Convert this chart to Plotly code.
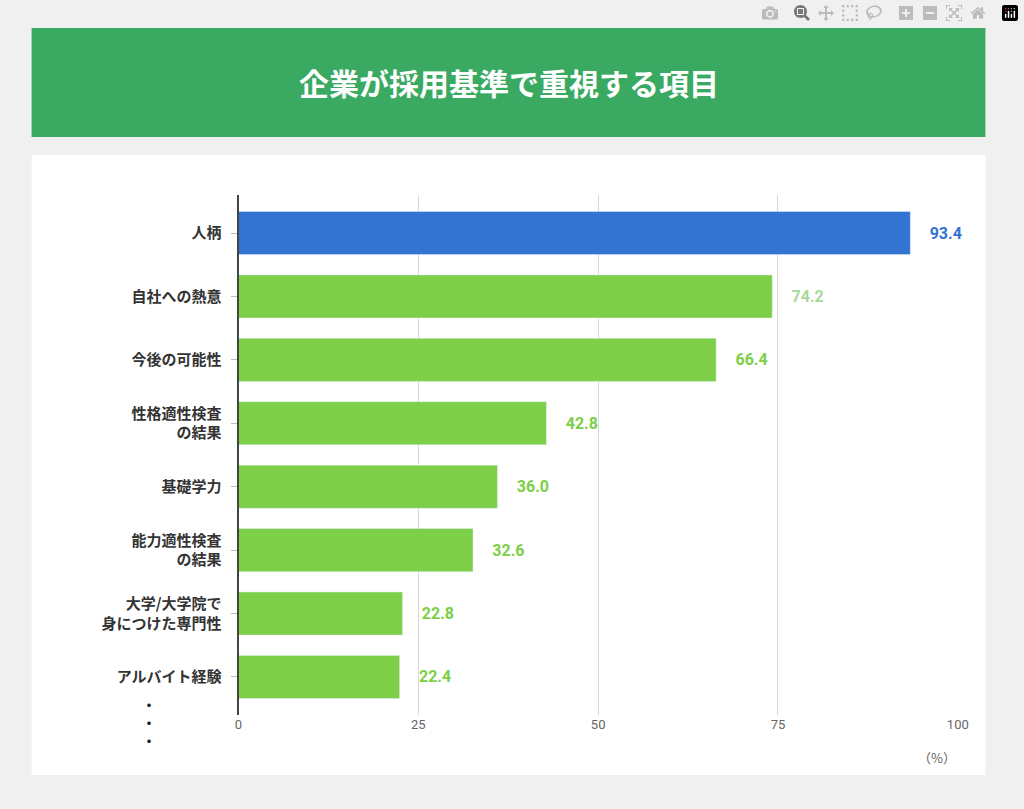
import plotly.graph_objects as go

categories = ["人柄", "自社への熱意", "今後の可能性", "性格適性検査<br>の結果", "基礎学力",
              "能力適性検査<br>の結果", "大学/大学院で<br>身につけた専門性", "アルバイト経験"]
values = [93.4, 74.2, 66.4, 42.8, 36.0, 32.6, 22.8, 22.4]
bar_colors = ["#3373d1"] + ["#7ccf46"] * 7
label_colors = ["#3373d1", "#a9d99a"] + ["#7ccf46"] * 6

W, H = 1024, 809
fig = go.Figure()
fig.add_trace(go.Bar(
    y=categories, x=values, orientation="h", marker_color=bar_colors, width=0.68,
    text=[f"\u2003<b>{v:.1f}</b>" for v in values], textposition="outside",
    textfont=dict(color=label_colors, size=16, family="Roboto"),
    cliponaxis=False, hoverinfo="skip"))

fig.update_layout(
    width=W, height=H, margin=dict(l=0, r=0, t=0, b=0),
    paper_bgcolor="#f0f0f0", plot_bgcolor="rgba(0,0,0,0)", showlegend=False,
    font=dict(family="Noto Sans CJK JP", color="#333"),
    xaxis=dict(domain=[238/W, 968/W], range=[0, 100], tickvals=[0, 25, 50, 75, 100],
               showgrid=True, gridcolor="#d9d9d9", zeroline=False,
               tickfont=dict(size=13, color="#666", family="Roboto"), ticks=""),
    yaxis=dict(domain=[1-715/H, 1-195/H], range=[7.6, -0.6], autorange=False,
               showline=True, linecolor="#444", linewidth=2, ticks="outside",
               ticklen=6, tickcolor="#bbb", ticklabelstandoff=6,
               tickfont=dict(size=15, color="#333", family="Noto Sans CJK JP", weight="bold")),
    shapes=[
        dict(type="rect", xref="paper", yref="paper", x0=28/W, x1=996/W, y0=1-775/H, y1=1-155/H,
             fillcolor="white", line_width=0, layer="below"),
        dict(type="rect", xref="paper", yref="paper", x0=28/W, x1=996/W, y0=1-137/H, y1=1-28/H,
             fillcolor="#3aaa62", line_width=0, layer="below"),
    ],
    annotations=[
        dict(text="<b>企業が採用基準で重視する項目</b>", xref="paper", yref="paper", x=0.5, y=1-82/H,
             yanchor="middle", showarrow=False,
             font=dict(size=30, color="white", family="Noto Sans CJK JP")),
        dict(text="（%）", xref="paper", yref="paper", x=968/W, y=1-757/H, yanchor="middle",
             showarrow=False, font=dict(size=13, color="#666")),
        dict(text="<b>・<br>・<br>・</b>", xref="paper", yref="paper", x=138/W, y=1-722/H,
             yanchor="middle", showarrow=False, font=dict(size=14, color="#222")),
    ],
)
fig.write_html("out.html", post_script="document.body.style.margin='0';document.body.style.overflow='hidden';")
